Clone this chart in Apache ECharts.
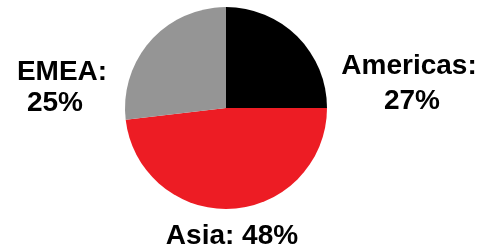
<!DOCTYPE html>
<html>
<head>
<meta charset="utf-8">
<script src="https://cdn.jsdelivr.net/npm/echarts@6/dist/echarts.min.js"></script>
<style>html,body{margin:0;padding:0;background:#fff}#c{width:484px;height:251px}</style>
</head>
<body>
<div id="c"></div>
<script>
// Regions and printed label percentages
var regions = ['Americas', 'Asia', 'EMEA'];
var labelPct = ['27%', '48%', '25%'];
// Slice sizes as drawn in the reference (share of circle, %)
var sliceValues = [25, 48.15, 26.85];
var colors = ['#000000', '#ED1C24', '#959595'];
var labelPos = [[409, 84], [232, 236], [62, 88]];

var chart = echarts.init(document.getElementById('c'), null, {renderer: 'canvas'});
var fmt = [
  function (r, p) { return '{a|' + r + ':}\n{b|' + p + '}'; },
  function (r, p) { return '{s|' + r + ': ' + p + '}'; },
  function (r, p) { return '{c|' + r + ':}\n{d|' + p + '}'; }
];
var data = regions.map(function (r, i) {
  return {
    name: r,
    value: sliceValues[i],
    itemStyle: {color: colors[i]},
    label: {formatter: fmt[i](r, labelPct[i])}
  };
});
var base = {fontFamily: '"Liberation Sans", Arial, sans-serif', fontWeight: 'bold', fontSize: 28, color: '#000'};
function st(o) { var r = {}; for (var k in base) r[k] = base[k]; for (var k2 in o) r[k2] = o[k2]; return r; }
chart.setOption({
  animation: false,
  series: [{
    type: 'pie',
    center: [226, 108],
    radius: [0, 101],
    startAngle: 90,
    clockwise: true,
    data: data,
    itemStyle: {borderWidth: 0},
    emphasis: {disabled: true},
    labelLine: {show: false},
    label: {
      show: true,
      position: 'outside',
      color: '#000',
      fontFamily: base.fontFamily,
      fontWeight: 'bold',
      fontSize: 28,
      align: 'center',
      overflow: 'none',
      rich: {
        a: st({lineHeight: 35}),
        b: st({lineHeight: 35, padding: [0, 0, 0, 6]}),
        s: st({lineHeight: 33}),
        c: st({lineHeight: 31}),
        d: st({lineHeight: 31, padding: [0, 14, 0, 0]})
      }
    },
    labelLayout: function (p) {
      var pos = labelPos[p.dataIndex];
      return {x: pos[0], y: pos[1], align: 'center', verticalAlign: 'middle'};
    }
  }]
});
</script>
</body>
</html>
